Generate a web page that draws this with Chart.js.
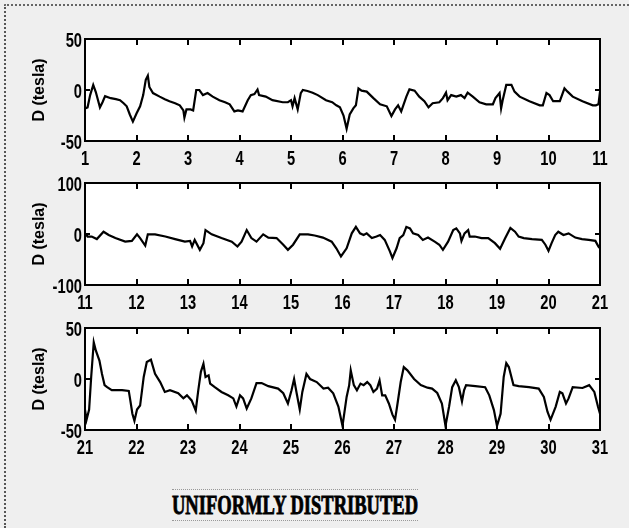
<!DOCTYPE html>
<html>
<head>
<meta charset="utf-8">
<script src="https://cdn.jsdelivr.net/npm/chart.js@4"></script>
<style>
  html, body { margin:0; padding:0; }
  body { width:629px; height:528px; background:#efefef; position:relative; overflow:hidden; }
  #frame { position:absolute; left:4px; top:4px; width:625px; height:524px;
           border-left:2px dotted #555; border-top:2px dotted #666; box-sizing:border-box; }
  canvas.panel { position:absolute; left:0; }
  #title { position:absolute; top:489px; left:172px; width:246px; height:32px;
           border-top:1px dotted #999; border-bottom:1px dotted #999; box-sizing:border-box; }
  #title span { position:absolute; left:50%; top:0px; font-family:'Liberation Serif','DejaVu Serif',serif;
           font-weight:bold; font-size:28px; line-height:29px; color:#000; white-space:nowrap;
           -webkit-text-stroke:0.9px #000; }
</style>
</head>
<body>
<div id="frame"></div>
<canvas class="panel" id="c1" width="629" height="175" style="top:0px"></canvas>
<canvas class="panel" id="c2" width="629" height="175" style="top:144px"></canvas>
<canvas class="panel" id="c3" width="629" height="175" style="top:289px"></canvas>
<div id="title"><span id="tt">UNIFORMLY DISTRIBUTED</span></div>
<script>
// ---- data ----
const p1x = [1.00,1.05,1.10,1.16,1.21,1.29,1.34,1.39,1.50,1.60,1.68,1.75,1.81,1.87,1.93,2.00,2.07,2.13,2.18,2.22,2.25,2.32,2.45,2.55,2.64,2.75,2.84,2.91,2.93,2.97,3.05,3.10,3.16,3.22,3.29,3.38,3.48,3.61,3.72,3.81,3.90,3.97,4.06,4.16,4.22,4.29,4.35,4.38,4.51,4.64,4.84,4.94,5.00,5.03,5.07,5.13,5.19,5.23,5.32,5.42,5.52,5.68,5.80,5.88,5.95,6.02,6.08,6.14,6.21,6.26,6.31,6.37,6.47,6.60,6.73,6.86,6.95,7.02,7.08,7.14,7.24,7.30,7.40,7.49,7.59,7.67,7.75,7.88,7.95,8.01,8.04,8.11,8.21,8.30,8.37,8.43,8.53,8.66,8.79,8.92,8.97,9.05,9.08,9.11,9.18,9.28,9.34,9.44,9.63,9.83,9.89,9.96,10.02,10.09,10.22,10.31,10.37,10.47,10.66,10.86,10.92,10.97,11.00];
const p1y = [-18,-17,-5,5,-2,-17,-12,-6,-8,-9,-10,-13,-16,-24,-31,-23,-16,-5,10,14,3,-3,-6.5,-9,-11,-13,-15,-20,-27,-19,-19,-20,0,0,-5,-3,-6.5,-10,-12,-14,-21,-20,-21,-10,-5,-4,0.5,-5,-6.5,-10,-12,-12,-10,-16,-8,-19,-3,0,-1,-2.6,-5,-10,-12,-15,-17,-25,-38,-24,-18,-15,1.6,-0.6,-1.6,-8,-14,-16,-25.5,-19,-15,-21,-6.5,0.6,-0.6,-6.5,-11,-17,-13,-12,-8,-2.6,-10,-5,-6.5,-5,-8,-2.6,-6.5,-12,-14,-14,-8,-3,-18,-10,5,5,-1.6,-6.5,-11,-15,-15,-3,-5,-11,-11,1.6,-1.6,-6.5,-11,-15,-15,-14,-1.6];

const p2x = [11.00,11.05,11.13,11.23,11.36,11.46,11.59,11.78,11.91,12.01,12.07,12.17,12.22,12.36,12.56,12.75,12.94,13.04,13.08,13.13,13.23,13.30,13.34,13.46,13.65,13.85,13.96,14.04,14.14,14.23,14.33,14.46,14.56,14.72,14.85,14.94,15.04,15.17,15.33,15.46,15.62,15.79,15.88,15.97,16.08,16.18,16.26,16.34,16.41,16.47,16.57,16.66,16.73,16.82,16.92,16.97,17.05,17.11,17.18,17.24,17.31,17.37,17.47,17.56,17.66,17.79,17.88,17.95,18.05,18.15,18.21,18.28,18.31,18.37,18.44,18.47,18.57,18.70,18.83,18.96,19.06,19.16,19.26,19.35,19.42,19.52,19.68,19.87,19.94,20.00,20.06,20.13,20.19,20.29,20.39,20.52,20.65,20.78,20.91,20.97,21.00];
const p2y = [1.3,-5,-5,-10,4.5,-2,-8,-15,-13.5,-0.6,-8,-22.6,-0.6,-0.6,-5,-10,-15,-13.5,-24.5,-11.6,-31,-18,7.7,-0.6,-8,-15,-24.5,-15,7.7,-8,-15,-0.6,-7,-8,-21,-31,-21,-0.6,-0.6,-3,-7,-15,-28,-44,-28,1.3,14,1.3,-2,1.3,-8,-5,-2,-11.6,-34,-47,-28,-8,-2,14,11,1.3,-2,-11.6,-7,-15,-21,-31,-15,7.7,11,1.3,-13.5,1.3,7.7,-5,-5,-8,-8,-18,-29,-8,12,4.5,-5,-8,-10,-11.6,-21,-33,-18,-2,4.5,-2,1.3,-7,-10,-11.6,-13.5,-24.5,-28];

const p3x = [21.00,21.03,21.08,21.12,21.17,21.21,21.28,21.33,21.38,21.43,21.52,21.72,21.85,21.88,21.92,21.96,22.01,22.07,22.14,22.20,22.28,22.36,22.46,22.55,22.65,22.81,22.91,22.98,23.07,23.15,23.20,23.25,23.30,23.34,23.40,23.43,23.52,23.65,23.78,23.88,23.94,24.01,24.07,24.14,24.23,24.33,24.43,24.56,24.75,24.85,24.94,25.01,25.06,25.11,25.17,25.22,25.30,25.37,25.50,25.63,25.72,25.82,25.92,26.00,26.08,26.13,26.16,26.22,26.28,26.35,26.41,26.48,26.54,26.60,26.67,26.72,26.77,26.83,26.90,26.97,27.02,27.06,27.13,27.19,27.26,27.39,27.52,27.65,27.74,27.84,27.93,28.00,28.07,28.13,28.20,28.26,28.32,28.36,28.40,28.58,28.77,28.85,28.94,29.00,29.07,29.13,29.18,29.23,29.32,29.42,29.62,29.81,29.91,29.98,30.04,30.14,30.22,30.27,30.34,30.39,30.47,30.66,30.79,30.89,30.96,31.00];
const p3y = [-30,-40,-30,2,36,28,18,5,-6,-8,-11,-11,-11.7,-21,-34,-41,-30,-26,2,16.6,19,5,-3,-12.7,-11,-14,-19,-16,-21,-31,-11,7,15,2,3.6,-4.5,-8,-12.7,-16,-19,-27,-16,-19,-29,-19,-4,-4,-7,-9.4,-14,-24,-11,0,-14,-30,-12.7,5,0,-3,-9.4,-8.5,-14,-27,-46,-17.6,-6,8.5,-6,-11,-4.5,-6,-3,-6,-12.7,-9.4,-1.3,-16,-16,-24,-35,-40,-27,-3,11.7,8.5,0,-6,-8.5,-9.4,-13.7,-24,-46,-27,-8,-1.3,-8,-22,-11,-6,-7,-8,-16,-30.5,-46,-34,2,15.6,11.7,-6,-7,-8,-9.4,-17.6,-32,-40,-27,-12.7,-14,-24,-19,-8,-8.8,-6,-12.7,-27,-34];

const panels = [
  { id:'c1', xs:p1x, ys:p1y, xmin:1,  xmax:11, ymin:-50,  ymax:50,  ystep:50 },
  { id:'c2', xs:p2x, ys:p2y, xmin:11, xmax:21, ymin:-100, ymax:100, ystep:100 },
  { id:'c3', xs:p3x, ys:p3y, xmin:21, xmax:31, ymin:-50,  ymax:50,  ystep:50 }
];
const yTitle = 'D (tesla)';

const LABEL_FONT = "bold 21px 'Liberation Sans', Arial, sans-serif";
const SQUEEZE = 0.70;

const framePlugin = {
  id:'frame',
  beforeDraw(chart){
    const {ctx, chartArea:a} = chart;
    ctx.save(); ctx.fillStyle='#ffffff'; ctx.fillRect(a.left,a.top,a.width,a.height); ctx.restore();
  },
  afterDatasetsDraw(chart){
    const {ctx, chartArea:a, scales:{x,y}} = chart;
    ctx.save();
    ctx.strokeStyle='#000'; ctx.lineWidth=2;
    ctx.strokeRect(a.left,a.top,a.width,a.height);
    ctx.beginPath();
    x.ticks.forEach(t=>{
      if (t.value<=x.min || t.value>=x.max) return;
      const px = Math.round(x.getPixelForValue(t.value));
      ctx.moveTo(px,a.top); ctx.lineTo(px,a.top+6);
      ctx.moveTo(px,a.bottom); ctx.lineTo(px,a.bottom-6);
    });
    y.ticks.forEach(t=>{
      if (t.value<=y.min || t.value>=y.max) return;
      const py = Math.round(y.getPixelForValue(t.value));
      ctx.moveTo(a.left,py); ctx.lineTo(a.left+5,py);
      ctx.moveTo(a.right,py); ctx.lineTo(a.right-5,py);
    });
    ctx.stroke();
    // condensed bold tick labels, placed by the library's scales
    ctx.fillStyle='#000';
    ctx.font = LABEL_FONT;
    ctx.textBaseline='alphabetic';
    x.ticks.forEach(t=>{
      const px = x.getPixelForValue(t.value);
      ctx.save(); ctx.translate(px, a.bottom+24); ctx.scale(SQUEEZE,1);
      ctx.textAlign='center'; ctx.fillText(t.label,0,0); ctx.restore();
    });
    y.ticks.forEach(t=>{
      const py = y.getPixelForValue(t.value);
      ctx.save(); ctx.translate(a.left-3, py+7.5); ctx.scale(SQUEEZE,1);
      ctx.textAlign='right'; ctx.fillText(t.label,0,0); ctx.restore();
    });
    ctx.restore();
  }
};

panels.forEach(p=>{
  new Chart(document.getElementById(p.id), {
    type:'line',
    data:{ datasets:[{ data:p.xs.map((v,i)=>({x:v,y:p.ys[i]})), borderColor:'#000', borderWidth:2.2,
                      pointRadius:0, tension:0, fill:false }] },
    options:{
      responsive:false, animation:false, events:[],
      layout:{ padding:{ top:39, right:29, left:0, bottom:0 } },
      plugins:{ legend:{display:false}, tooltip:{enabled:false} },
      scales:{
        x:{ type:'linear', min:p.xmin, max:p.xmax,
            grid:{display:false, drawTicks:false}, border:{display:false},
            ticks:{ stepSize:1, autoSkip:false, maxRotation:0, display:false },
            afterFit(s){ s.height = 34; } },
        y:{ min:p.ymin, max:p.ymax,
            grid:{display:false, drawTicks:false}, border:{display:false},
            ticks:{ stepSize:p.ystep, display:false },
            title:{ display:true, text:yTitle, color:'#000',
                    font:{ family:"'Liberation Sans','DejaVu Sans',sans-serif", weight:'bold', size:16 },
                    padding:{ top:30, bottom:0 } },
            afterFit(s){ s.width = 85; } }
      }
    },
    plugins:[framePlugin]
  });
});

// condense the title text to the reference width, centred in its box
const tt = document.getElementById('tt');
const w = tt.getBoundingClientRect().width;
tt.style.transform = 'translateX(-50%) scaleX(' + (246 / w) + ')';
</script>
</body>
</html>
